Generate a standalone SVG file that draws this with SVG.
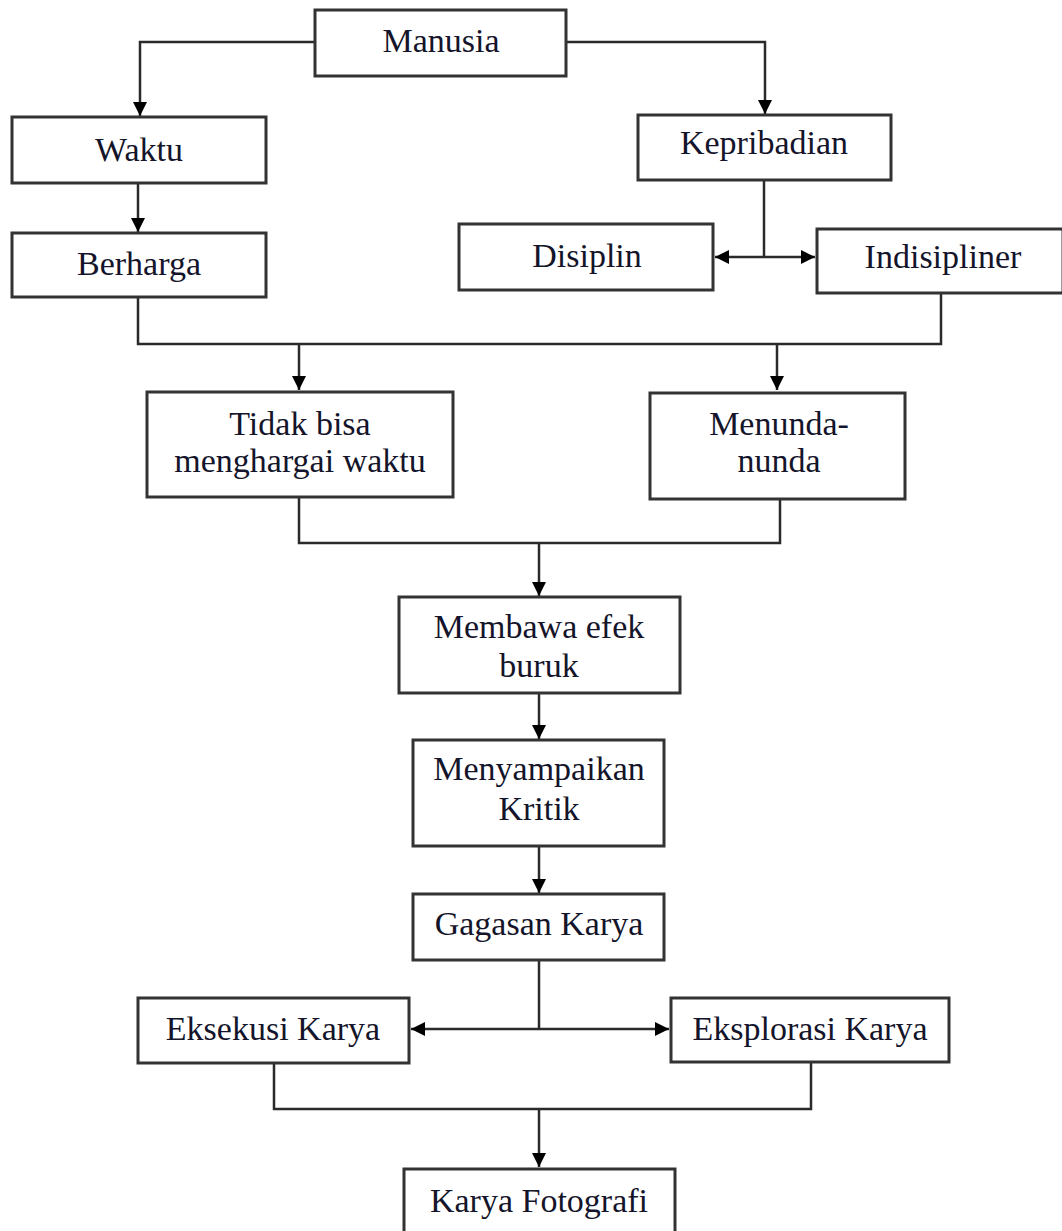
<svg xmlns="http://www.w3.org/2000/svg" width="1062" height="1231" viewBox="0 0 1062 1231">
<style>
.box{fill:#fff;stroke:#333;stroke-width:3}
.lbl{font-family:"Liberation Serif","Times New Roman",serif;font-size:34px;fill:#14142a;text-anchor:middle}
.con{fill:none;stroke:#2a2a2a;stroke-width:2.5}
.arr{fill:none;stroke:#2a2a2a;stroke-width:2.5;marker-end:url(#ah)}
</style>
<defs>
<marker id="ah" markerUnits="userSpaceOnUse" markerWidth="15" markerHeight="14" refX="14" refY="7" orient="auto">
<path d="M0,0 L14,7 L0,14 Z" fill="#000"/>
</marker>
</defs>
<rect width="1062" height="1231" fill="#fff"/>
<g id="connectors">
<path class="arr" d="M315,42 H140 V116"/>
<path class="arr" d="M566,42 H765 V114"/>
<path class="arr" d="M138,183 V232"/>
<path class="con" d="M764,180 V257"/>
<path class="arr" d="M764,257 H715"/>
<path class="arr" d="M764,257 H815"/>
<path class="con" d="M138,297 V344 H941 V293"/>
<path class="arr" d="M299,344 V390"/>
<path class="arr" d="M777,344 V390"/>
<path class="con" d="M299,496 V543 H780 V498"/>
<path class="arr" d="M539,543 V596"/>
<path class="arr" d="M539,692 V739"/>
<path class="arr" d="M539,846 V893"/>
<path class="con" d="M539,960 V1029"/>
<path class="arr" d="M539,1029 H411"/>
<path class="arr" d="M539,1029 H669"/>
<path class="con" d="M274,1063 V1109 H811 V1062"/>
<path class="arr" d="M539,1109 V1167"/>
</g>
<g id="manusia"><rect class="box" x="315" y="10" width="251" height="66"/><text class="lbl" x="441" y="52">Manusia</text></g>
<g id="waktu"><rect class="box" x="12" y="117" width="254" height="66"/><text class="lbl" x="139" y="161">Waktu</text></g>
<g id="berharga"><rect class="box" x="12" y="233" width="254" height="64"/><text class="lbl" x="139" y="275">Berharga</text></g>
<g id="kepribadian"><rect class="box" x="638" y="115" width="253" height="65"/><text class="lbl" x="764" y="154">Kepribadian</text></g>
<g id="disiplin"><rect class="box" x="459" y="224" width="254" height="66"/><text class="lbl" x="587" y="267">Disiplin</text></g>
<g id="indisipliner"><rect class="box" x="817" y="229" width="246" height="64"/><text class="lbl" x="943" y="268">Indisipliner</text></g>
<g id="tidak-bisa"><rect class="box" x="147" y="392" width="306" height="105"/><text class="lbl" x="300" y="435">Tidak bisa</text><text class="lbl" x="300" y="472">menghargai waktu</text></g>
<g id="menunda"><rect class="box" x="650" y="393" width="255" height="106"/><text class="lbl" x="779" y="435">Menunda-</text><text class="lbl" x="779" y="472">nunda</text></g>
<g id="membawa"><rect class="box" x="399" y="597" width="281" height="96"/><text class="lbl" x="539" y="638">Membawa efek</text><text class="lbl" x="539" y="677">buruk</text></g>
<g id="menyampaikan"><rect class="box" x="413" y="740" width="251" height="106"/><text class="lbl" x="539" y="780">Menyampaikan</text><text class="lbl" x="539" y="820">Kritik</text></g>
<g id="gagasan"><rect class="box" x="413" y="894" width="251" height="66"/><text class="lbl" x="539" y="935">Gagasan Karya</text></g>
<g id="eksekusi"><rect class="box" x="138" y="998" width="271" height="65"/><text class="lbl" x="273" y="1040">Eksekusi Karya</text></g>
<g id="eksplorasi"><rect class="box" x="671" y="998" width="278" height="64"/><text class="lbl" x="810" y="1040">Eksplorasi Karya</text></g>
<g id="karya-fotografi"><rect class="box" x="404" y="1169" width="271" height="75"/><text class="lbl" x="539" y="1212">Karya Fotografi</text></g>
</svg>
